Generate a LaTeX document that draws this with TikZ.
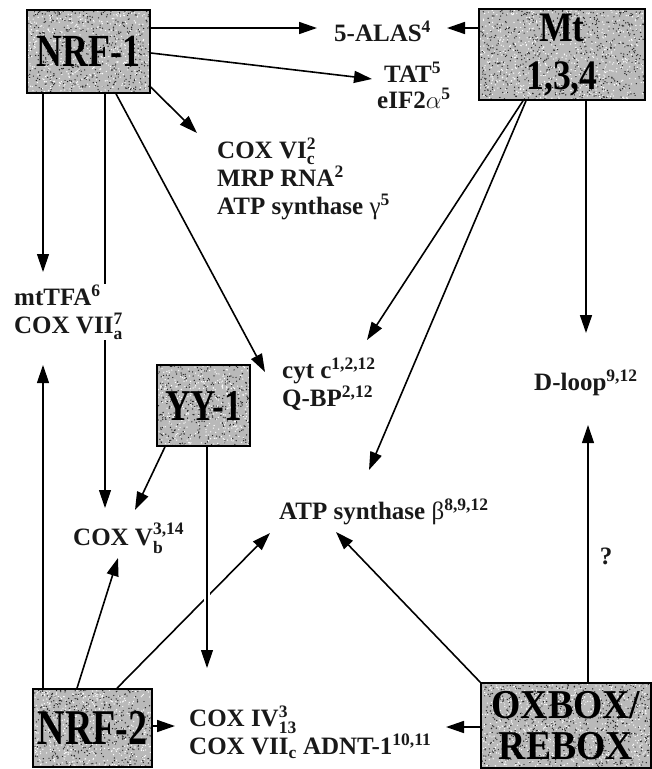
\documentclass[tikz,border=0pt]{standalone}
\usepackage{fontspec}
\usepackage{amsmath}
\usepackage{graphicx}
\setmainfont{Liberation Serif}
\usetikzlibrary{arrows.meta,backgrounds}
\newcommand\supsub[2]{$^{\text{#1}}_{\text{#2}}$}
\newcommand\sq[2]{\scalebox{#1}[1]{#2}}
\pgfmathsetseed{7}
\begin{document}
\begin{tikzpicture}[x=1pt,y=-1pt,
  bx/.style={draw=black, line width=1.6pt, fill=gray!55, inner sep=0pt, align=center},
  speck/.style n args={3}{path picture={
     \foreach \i in {1,...,#3}{
       \fill[black!85] ([shift={({(rnd-0.5)*#1},{(rnd-0.5)*#2})}]path picture bounding box.center) circle (0.7);
       \fill[white] ([shift={({(rnd-0.5)*#1},{(rnd-0.5)*#2})}]path picture bounding box.center) circle (0.7);
     }}},
  lab/.style={font=\fontsize{25}{28}\selectfont\bfseries, align=left, inner sep=1pt, text=black!90},
  arr/.style={line width=1.6pt, -{Triangle[length=18pt,width=12pt]}},
  varr/.style={line width=1.2pt, -{Triangle[length=18pt,width=12pt]}},
  halo/.style={preaction={draw=white, line width=6pt, -}}]
\useasboundingbox (0,0) rectangle (652,769);
% boxes
\node[bx, speck={123}{83}{500}, minimum width=123, minimum height=83, font=\fontsize{46}{50}\selectfont\bfseries] (nrf1) at (88.5,51.5) {\sq{0.78}{NRF-1}};
\node[bx, speck={166}{91}{700}, minimum width=166, minimum height=91, font=\fontsize{42}{48}\selectfont\bfseries] (mt) at (562,54.5) {\sq{0.85}{Mt}\\\sq{0.85}{1,3,4}};
\node[bx, speck={93}{81}{380}, minimum width=93, minimum height=81, font=\fontsize{44}{50}\selectfont\bfseries] (yy1) at (203.5,405.5) {\sq{0.8}{YY-1}};
\node[bx, speck={119}{78}{460}, minimum width=119, minimum height=78, font=\fontsize{50}{50}\selectfont\bfseries] (nrf2) at (92.5,728) {\sq{0.76}{NRF-2}};
\node[bx, speck={170}{85}{720}, minimum width=170, minimum height=85, font=\fontsize{41}{43}\selectfont\bfseries] (ox) at (566,725.5) {\sq{0.92}{OXBOX/}\\[-2pt]\sq{0.92}{REBOX}};
% text labels
\node[lab, anchor=west] (alas) at (333,31) {5-ALAS\textsuperscript{4}};
\node[lab, anchor=west] (tat) at (383,72) {TAT\textsuperscript{5}};
\node[lab, anchor=west] (eif) at (376,98) {eIF2$\alpha$\textsuperscript{5}};
\node[lab, anchor=north west] (cox6) at (216,137) {COX VI\supsub{2}{c}\\MRP RNA\textsuperscript{2}\\ATP synthase {\mdseries γ}\textsuperscript{5}};
\node[lab, anchor=west, fill=white] (mttfa) at (13,312) {mtTFA\textsuperscript{6}\\COX VII\supsub{7}{a}};
\node[lab, anchor=west] (cytc) at (281,384) {cyt c\textsuperscript{1,2,12}\\Q-BP\textsuperscript{2,12}};
\node[lab, anchor=west] (dloop) at (533,383) {D-loop\textsuperscript{9,12}};
\node[lab, anchor=west] (atpb) at (278,512) {ATP synthase {\mdseries β}\textsuperscript{8,9,12}};
\node[lab, anchor=west] (cox5) at (72,538) {COX V\supsub{3,14}{b}};
\node[lab, anchor=west] (cox4) at (188,732) {COX IV\supsub{3}{13}\\COX VII\textsubscript{c} ADNT-1\textsuperscript{10,11}};
\node[lab] (q) at (606,556) {?};
% arrow tips
\coordinate (t1) at (317,28);
\coordinate (t2) at (447,28);
\coordinate (t3) at (372,79);
\coordinate (t4) at (197,133);
\coordinate (t5) at (43,272);
\coordinate (t6) at (105,508);
\coordinate (t7) at (265,372);
\coordinate (t8) at (367,340);
\coordinate (t9) at (369,470);
\coordinate (t10) at (586,333);
\coordinate (t11) at (588,425);
\coordinate (t12) at (336,532);
\coordinate (t13) at (446,727);
\coordinate (t14) at (175,726);
\coordinate (t15) at (43,365);
\coordinate (t16) at (118,558);
\coordinate (t17) at (270,533);
\coordinate (t18) at (135,510);
\coordinate (t19) at (207,668);
\begin{scope}[on background layer]
\draw[arr] (nrf1.east |- t1) -- (t1);
\draw[arr] (mt.west |- t2) -- (t2);
\draw[arr] (nrf1.east |- 0,53) -- (t3);
\draw[arr] (nrf1.east |- 0,87) -- (t4);
\draw[varr] (nrf1.south -| t5) -- (t5);
\draw[varr] (nrf1.south -| t6) -- (t6);
\draw[arr] (nrf1.south -| 116,0) -- (t7);
\draw[arr] (mt.south -| 523,0) -- (t8);
\draw[arr] (mt.south -| 526,0) -- (t9);
\draw[arr] (mt.south -| t10) -- (t10);
\draw[varr] (ox.north -| t11) -- (t11);
\draw[arr] (ox.north west) -- (t12);
\draw[arr] (ox.west |- t13) -- (t13);
\draw[arr] (nrf2.east |- t14) -- (t14);
\draw[varr] (nrf2.north -| t15) -- (t15);
\draw[arr] (nrf2.north -| 77,0) -- (t16);
\draw[arr] (nrf2.north -| 117,0) -- (t17);
\draw[arr] (yy1.south -| 165,0) -- (t18);
\draw[varr, halo] (yy1.south -| t19) -- (t19);
\end{scope}
\end{tikzpicture}
\end{document}
